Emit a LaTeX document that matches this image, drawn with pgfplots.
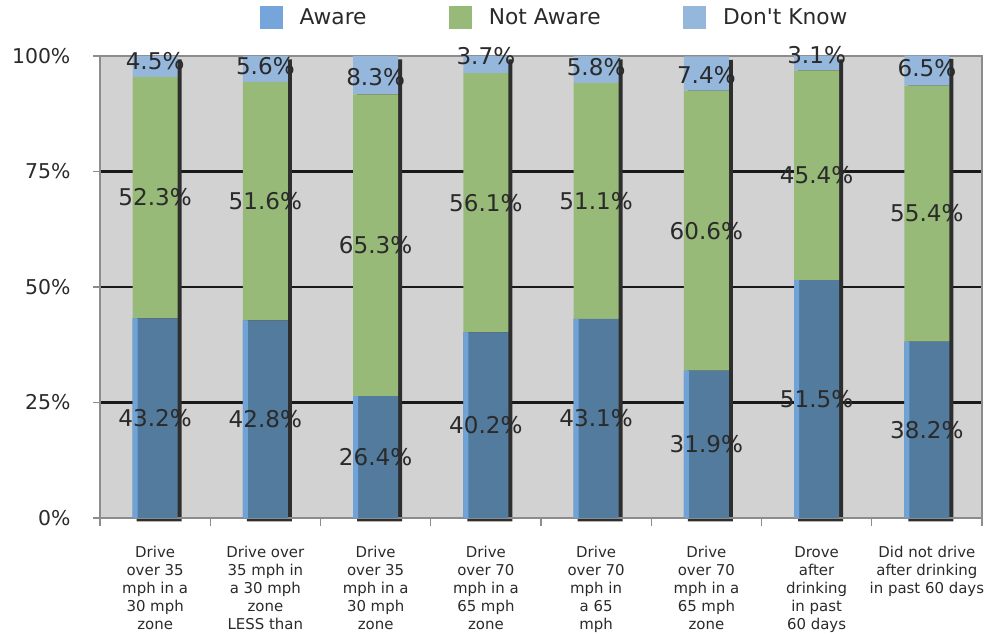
\documentclass[border=0pt]{standalone}
\usepackage{fontspec}
\setmainfont{DejaVu Sans}[Ligatures=TeXOff]
\usepackage{pgfplots}
\usepackage{pgfplotstable}
\pgfplotsset{compat=1.18}
\definecolor{bgc}{HTML}{D2D2D2}
\definecolor{awareC}{HTML}{537B9D}
\definecolor{awareL}{HTML}{6FA3D8}
\definecolor{awareLeg}{HTML}{76A5DB}
\definecolor{notC}{HTML}{98BA78}
\definecolor{dkC}{HTML}{95B7DC}
\definecolor{shadowC}{HTML}{2E2E2E}
\definecolor{frameC}{HTML}{8C8C8C}
\definecolor{txtC}{HTML}{2A2A2A}

\pgfplotstableread{
x aware notaware dontknow
0 43.2 52.3 4.5
1 42.8 51.6 5.6
2 26.4 65.3 8.3
3 40.2 56.1 3.7
4 43.1 51.1 5.8
5 31.9 60.6 7.4
6 51.5 45.4 3.1
7 38.2 55.4 6.5
}\datatable

\pgfplotstableread{
x ypos val
0 21.6 43.2
1 21.4 42.8
2 13.2 26.4
3 20.1 40.2
4 21.55 43.1
5 15.95 31.9
6 25.75 51.5
7 19.1 38.2
0 69.35 52.3
1 68.6 51.6
2 59.05 65.3
3 68.25 56.1
4 68.65 51.1
5 62.2 60.6
6 74.2 45.4
7 65.9 55.4
0 99.0 4.5
1 97.8 5.6
2 95.4 8.3
3 100.0 3.7
4 97.7 5.8
5 95.9 7.4
6 100.2 3.1
7 97.3 6.5
}\labeltable

\pgfplotsset{base/.style={
  width=661.5pt, height=346.5pt, scale only axis,
  at={(0,0)}, anchor=south west,
  xmin=-0.5, xmax=7.5, ymin=0, ymax=100,
  /pgf/number format/assume math mode=true,
}}

\begin{document}
\begin{tikzpicture}
\useasboundingbox (-75pt,-87pt) rectangle (672.75pt,388.5pt);
% background, grid and shadows
\begin{axis}[base, clip=false,
  axis background/.style={fill=bgc},
  axis line style={draw=none},
  xtick=\empty, ytick={25,50,75}, yticklabels={},
  major tick length=0pt,
  ymajorgrids, grid style={black!90, line width=1.6pt},
]
\addplot[ybar, bar width=33.75pt, bar shift=3pt, fill=shadowC, draw=none, yshift=-2.5pt]
  table[x=x, y expr=\thisrow{aware}+\thisrow{notaware}+\thisrow{dontknow}] \datatable;
\end{axis}
% stacked bars
\begin{axis}[base, ybar stacked, bar width=33.75pt,
  axis line style={frameC, line width=1.1pt},
  tick pos=left, tick align=outside,
  xtick={0,...,7},
  xticklabels={
    {Drive\\over 35\\mph in a\\30 mph\\zone},
    {Drive over\\35 mph in\\a 30 mph\\zone\\LESS than},
    {Drive\\over 35\\mph in a\\30 mph\\zone},
    {Drive\\over 70\\mph in a\\65 mph\\zone},
    {Drive\\over 70\\mph in\\a 65\\mph},
    {Drive\\over 70\\mph in a\\65 mph\\zone},
    {Drove\\after\\drinking\\in past\\60 days},
    {Did not drive\\after drinking\\in past 60 days}},
  minor xtick={-0.5,0.5,...,7.5},
  major x tick style={draw=none},
  minor x tick style={frameC, line width=1pt},
  minor tick length=6pt,
  ytick={0,25,50,75,100},
  yticklabel={\pgfmathprintnumber{\tick}\%},
  ytick style={frameC, line width=1pt},
  major tick length=5pt,
  xticklabel style={anchor=north, align=center, text=txtC, inner sep=0pt,
    font=\fontsize{11.2}{13.5}\selectfont, yshift=-16pt},
  yticklabel style={anchor=east, text=txtC, inner sep=0pt,
    font=\fontsize{15.3}{17}\selectfont, xshift=-17pt},
  legend columns=3,
  legend cell align=left,
  legend image code/.code={\fill[#1, draw=none] (0pt,-8.6pt) rectangle (17.25pt,8.6pt);},
  legend style={draw=none, fill=none, at={(0,1)}, anchor=west,
    xshift=120pt, yshift=29pt, inner sep=0pt, outer sep=0pt,
    font=\fontsize{16.3}{18}\selectfont, text=txtC,
    /tikz/every odd column/.append style={column sep=10.5pt},
    /tikz/every even column/.append style={column sep=60pt}},
]
\addplot[fill=awareC, draw=none, forget plot] table[x=x,y=aware]\datatable;
\addplot[fill=notC, draw=none, forget plot] table[x=x,y=notaware]\datatable;
\addplot[fill=dkC, draw=none, forget plot] table[x=x,y=dontknow]\datatable;
\addlegendimage{fill=awareLeg, draw=none}
\addlegendentry{Aware}
\addlegendimage{fill=notC, draw=none}
\addlegendentry{Not Aware}
\addlegendimage{fill=dkC, draw=none}
\addlegendentry{Don't Know}
\end{axis}
% light strip and value labels
\begin{axis}[base, hide axis, clip=false]
\addplot[ybar, bar width=3.75pt, bar shift=-15pt, fill=awareL, draw=none]
  table[x=x,y=aware]\datatable;
\addplot[draw=none, mark=none, point meta=explicit,
  nodes near coords={\pgfmathprintnumber[fixed,precision=1,fixed zerofill]{\pgfplotspointmeta}\%},
  nodes near coords align=center,
  every node near coord/.append style={anchor=center, text=txtC, inner sep=0pt,
    font=\fontsize{17.3}{19}\selectfont}]
  table[x=x, y=ypos, meta=val]\labeltable;
\end{axis}
\end{tikzpicture}
\end{document}
